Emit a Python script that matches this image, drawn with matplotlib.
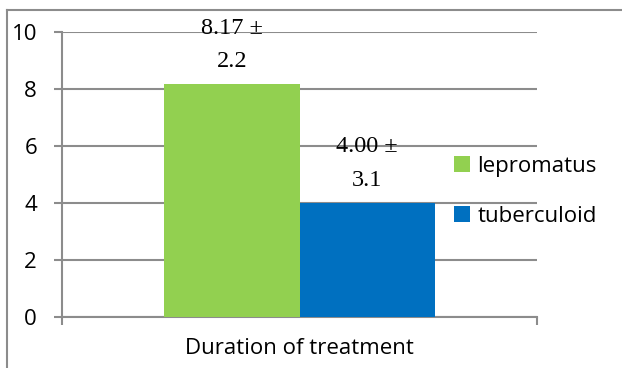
import matplotlib.pyplot as plt
from matplotlib.lines import Line2D

categories = ["Duration of treatment"]
series = ["lepromatus", "tuberculoid"]
means = [8.17, 4.00]
sds = [2.2, 3.1]
colors = ["#92D050", "#0070C0"]
yticks = [0, 2, 4, 6, 8, 10]

W, H = 622, 368
fig = plt.figure(figsize=(W / 100, H / 100), dpi=100)
ax = fig.add_axes([62 / W, 1 - 317 / H, 475 / W, 285 / H])

grey = "#8c8c8c"
width = 0.285
offsets = [-width / 2, width / 2]
for name, m, s, c, off in zip(series, means, sds, colors, offsets):
    ax.bar(off, m, width=width, color=c, label=name, zorder=3)
    ax.annotate(f"{m:.2f} \u00b1\n{s}", (off, m), xytext=(0, 9), textcoords="offset points",
                ha="center", va="bottom", family="Liberation Serif", fontsize=17.5,
                linespacing=1.75, zorder=4)

ax.set_xlim(-0.5, 0.5)
ax.set_ylim(0, 10)
ax.set_yticks(yticks)
ax.set_yticklabels([str(t) for t in yticks], family="Open Sans", fontsize=16)
ax.set_xticks([-0.5, 0.5])
ax.set_xticklabels(["", ""])
ax.tick_params(axis="y", length=6, width=1.5, color=grey, pad=12)
ax.tick_params(axis="x", length=6, width=1.5, color=grey)
ax.yaxis.grid(True, color=grey, linewidth=1.5, zorder=0)
ax.set_axisbelow(True)
for side in ["top", "right"]:
    ax.spines[side].set_visible(False)
for side in ["left", "bottom"]:
    ax.spines[side].set_color(grey)
    ax.spines[side].set_linewidth(1.5)

fig.text(299 / W, 1 - 348 / H, categories[0], ha="center", va="center",
         family="Open Sans", fontsize=16)

fig.legend(*ax.get_legend_handles_labels(), loc="upper left",
           bbox_to_anchor=(454 / W, 1 - 156 / H), frameon=False, borderpad=0,
           borderaxespad=0, prop={"family": "Open Sans", "size": 16},
           handlelength=0.7, handleheight=0.7, handletextpad=0.35, labelspacing=1.3)

# outer chart border (left and top edges are visible)
fig.add_artist(Line2D([7 / W, 7 / W], [0, 1 - 9.5 / H], transform=fig.transFigure,
                      color=grey, linewidth=1.5))
fig.add_artist(Line2D([7 / W, 1], [1 - 9.5 / H, 1 - 9.5 / H], transform=fig.transFigure,
                      color=grey, linewidth=1.5))

fig.savefig("out.png", dpi=100)
